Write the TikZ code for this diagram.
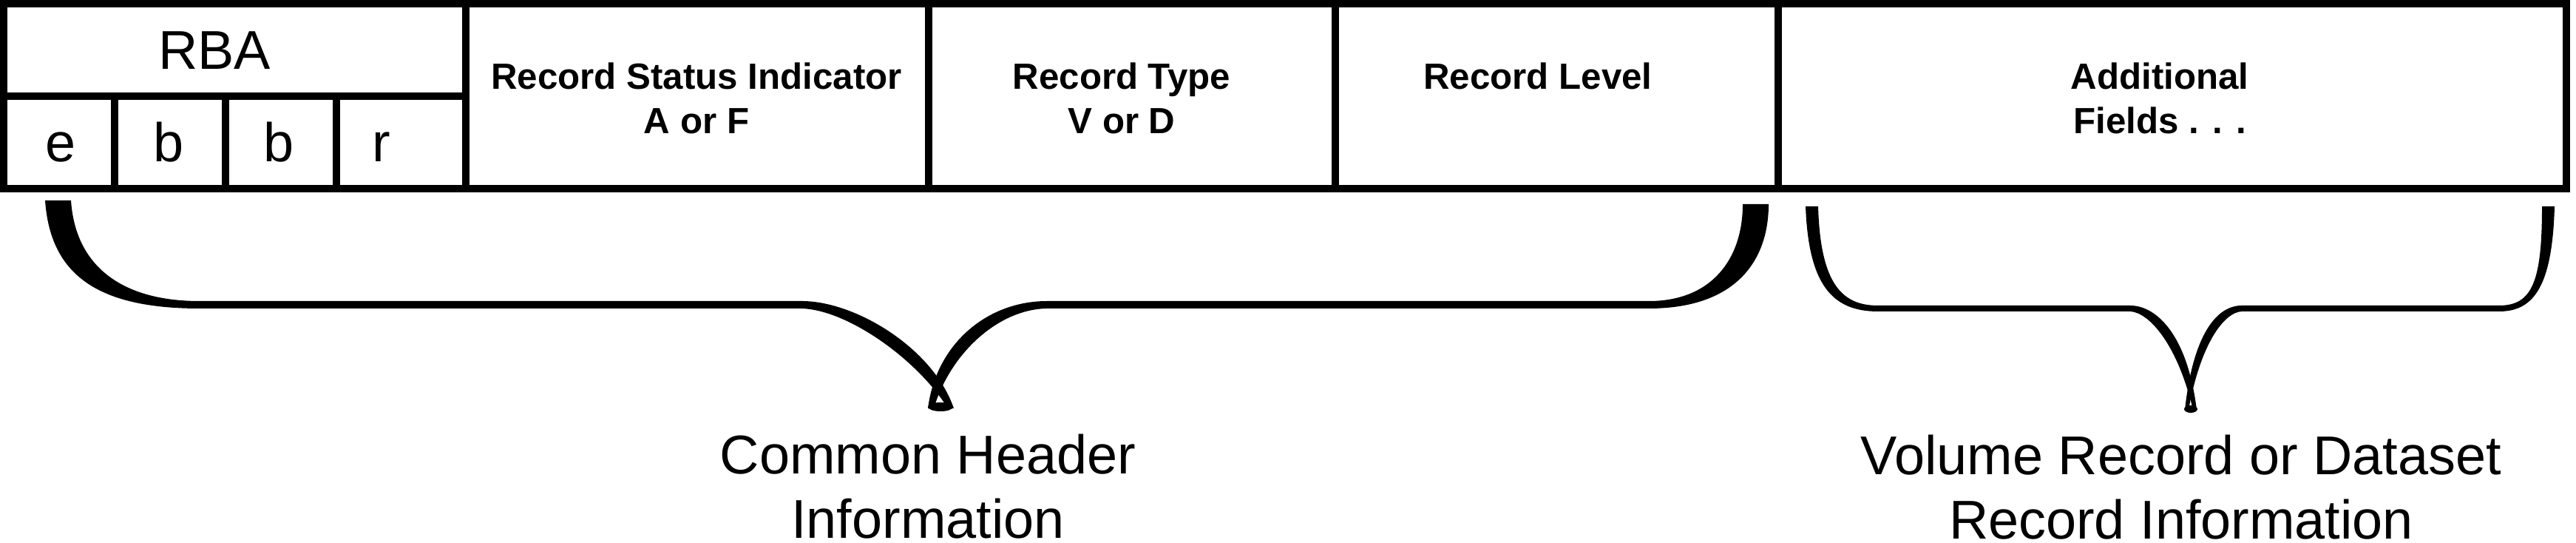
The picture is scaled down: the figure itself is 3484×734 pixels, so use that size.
\documentclass[tikz,border=0pt]{standalone}
\usepackage{fontspec}
\setmainfont{Liberation Sans}

\begin{document}
\begin{tikzpicture}[x=0.01cm,y=-0.01cm,
  rahmen/.style={line width=2.85pt},
  feld/.style={font=\fontsize{21}{22.5}\selectfont,inner sep=0pt,anchor=base},
  kopf/.style={font=\bfseries\fontsize{14}{17.1}\selectfont,align=center,inner sep=0pt,anchor=north},
  info/.style={font=\fontsize{21}{24.8}\selectfont,align=center,inner sep=0pt,anchor=north}]
  % Feld: 3484 x 734 px, y nach unten
  \useasboundingbox (0,0) rectangle (3484,734);
  \draw[rahmen] (5,5) rectangle (3471,255);
  \draw[rahmen] (630,5) -- (630,255);
  \draw[rahmen] (1256,5) -- (1256,255);
  \draw[rahmen] (1806,5) -- (1806,255);
  \draw[rahmen] (2405,5) -- (2405,255);
  \draw[rahmen] (5,130) -- (630,130);
  \draw[rahmen] (155,130) -- (155,255);
  \draw[rahmen] (305,130) -- (305,255);
  \draw[rahmen] (455,130) -- (455,255);
  \node[feld] (rba) at (290,93.5) {RBA};
  \node[feld] (e) at (82,219) {e};
  \node[feld] (b1) at (228,219) {b};
  \node[feld] (b2) at (377,219) {b};
  \node[feld] (r) at (516,219) {r};
  \node[kopf] (status) at (942,84) {Record Status Indicator\\A or F};
  \node[kopf] (typ) at (1517,84) {Record Type\\V or D};
  \node[kopf] (level) at (2080,84) {Record Level};
  \node[kopf] (zusatz) at (2921,84) {Additional\\Fields . . .};
  % Klammern
  \fill (61,271) -- (96,271) .. controls (102,360) and (165,407) .. (270,407) -- (1083,407)
    .. controls (1155,406) and (1262,470) .. (1290,552) -- (1282,552)
    .. controls (1240,485) and (1145,418) .. (1083,417) -- (270,417)
    .. controls (130,417) and (68,370) .. (61,271) -- cycle;
  \fill (1255,552) .. controls (1266,465) and (1335,407) .. (1416,407) -- (2230,407)
    .. controls (2315,407) and (2357,350) .. (2357,276) -- (2392,276)
    .. controls (2392,355) and (2345,417) .. (2230,417) -- (1416,417)
    .. controls (1350,418) and (1285,478) .. (1263,552) -- cycle;
  \fill (1272,550) ellipse (17 and 6);
  \fill (2442,279) -- (2459,279) .. controls (2462,385) and (2492,413) .. (2540,413) -- (2881,413)
    .. controls (2915,413) and (2958,450) .. (2971,554) -- (2966,554)
    .. controls (2944,462) and (2905,422) .. (2881,421) -- (2540,421)
    .. controls (2478,421) and (2446,385) .. (2442,279) -- cycle;
  \fill (2955,554) .. controls (2966,452) and (2998,413) .. (3032,413) -- (3380,413)
    .. controls (3425,413) and (3438,380) .. (3438,279) -- (3455,279)
    .. controls (3452,385) and (3428,421) .. (3380,421) -- (3032,421)
    .. controls (3008,422) and (2976,465) .. (2960,554) -- cycle;
  \fill (2963,553) ellipse (9 and 5);
  \node[info] (common) at (1255,586) {Common Header\\Information};
  \node[info] (volume) at (2950,587) {Volume Record or Dataset\\Record Information};
\end{tikzpicture}
\end{document}
